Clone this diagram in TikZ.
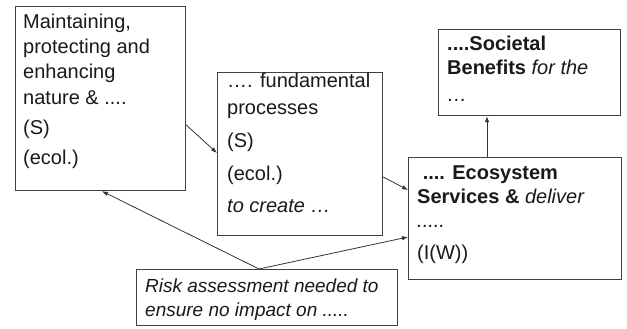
\documentclass[tikz,border=0pt]{standalone}
\usepackage{fontspec}
\setmainfont{Liberation Sans}
\usetikzlibrary{arrows.meta,calc}
\definecolor{boxline}{HTML}{404040}
\definecolor{txtcol}{HTML}{1A1A1A}
\definecolor{arrcol}{HTML}{333333}
\begin{document}
\begin{tikzpicture}[x=1pt,y=-1pt,
  box/.style={draw=boxline,line width=1.2pt,fill=white,inner sep=0pt,anchor=north west},
  txt/.style={inner sep=0pt,anchor=base west,text=txtcol,font=\fontsize{20}{24}\selectfont},
  rtxt/.style={inner sep=0pt,anchor=base west,text=txtcol,font=\fontsize{19}{23}\selectfont\itshape},
  arr/.style={draw=arrcol,line width=0.8pt,-{Latex[length=6pt,width=4.5pt]}}]
\useasboundingbox (0,0) rectangle (627,329);
% boxes
\node[box,minimum width=170pt,minimum height=184pt] (b1) at (15,6) {};
\node[box,minimum width=165pt,minimum height=163pt] (b2) at (217,72) {};
\node[box,minimum width=182pt,minimum height=86pt] (b3) at (438,29) {};
\node[box,minimum width=213pt,minimum height=122pt] (b4) at (408,157) {};
\node[box,minimum width=261pt,minimum height=56pt] (b5) at (136,269) {};
% box 1 text
\node[txt] (t1a) at (23,29) {Maintaining,};
\node[txt] (t1b) at (23,54) {protecting and};
\node[txt] (t1c) at (23,79) {enhancing};
\node[txt] (t1d) at (23,104) {nature \& ....};
\node[txt] (t1e) at (23,134) {(S)};
\node[txt] (t1f) at (23,164) {(ecol.)};
% box 2 text
\node[txt] (t2a) at (227,88) {…. fundamental};
\node[txt] (t2b) at (227,114) {processes};
\node[txt] (t2c) at (227,147) {(S)};
\node[txt] (t2d) at (227,180) {(ecol.)};
\node[txt] (t2e) at (227,212) {\itshape to create …};
% box 3 text
\node[txt] (t3a) at (447,51) {\bfseries ....Societal};
\node[txt] (t3b) at (447,75) {\textbf{Benefits} \textit{for the}};
\node[txt] (t3c) at (447,102) {\itshape …};
% box 4 text
\node[txt] (t4a) at (417,179) {\bfseries \ .... Ecosystem};
\node[txt] (t4b) at (417,203) {\textbf{Services \&} \textit{deliver}};
\node[txt] (t4c) at (417,227) {\itshape .....};
\node[txt] (t4d) at (417,259) {(I(W))};
% box 5 text
\node[rtxt] (t5a) at (145,292) {Risk assessment needed to};
\node[rtxt] (t5b) at (145,316) {ensure no impact on .....};
% connectors
\draw[arr] ($(b1.north east)+(0,119)$) -- ($(b2.north west)+(0,81)$);
\draw[arr] ($(b2.north east)+(0,105)$) -- ($(b4.north west)+(0,33)$);
\draw[arr] ($(b4.north west)+(79,0)$) -- ($(b3.south west)+(49,0)$);
\coordinate (r0) at ($(b5.north west)+(123,0)$);
\draw[arr] (r0) -- ($(b1.south west)+(87,0)$);
\draw[arr] (r0) -- ($(b4.north west)+(0,80)$);
\end{tikzpicture}
\end{document}
